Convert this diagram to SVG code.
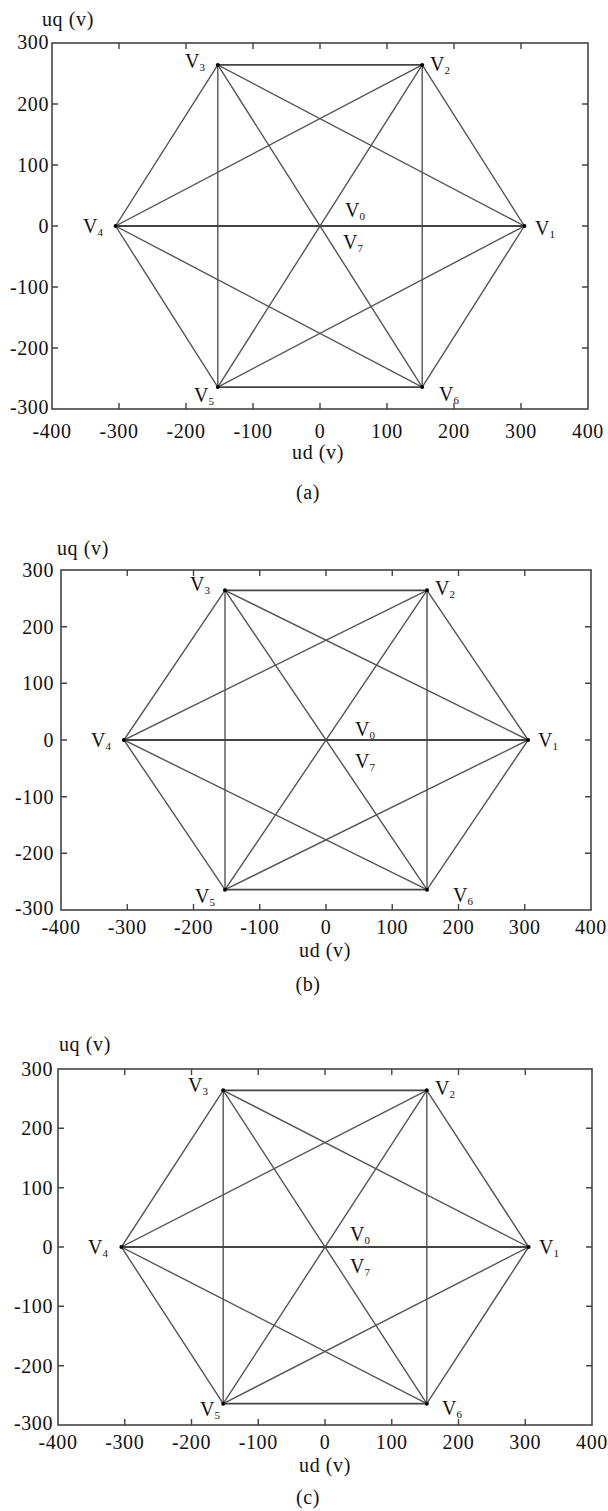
<svg xmlns="http://www.w3.org/2000/svg" width="608" height="1511" viewBox="0 0 608 1511">
<style>
.frame{fill:none;stroke:#444;stroke-width:1.6}
.tick{stroke:#444;stroke-width:1.4}
.ln{stroke:#555;stroke-width:1.4;fill:none;stroke-linecap:round}
.hz{stroke:#444;stroke-width:1.8;fill:none}
.t{font-family:"Liberation Serif","Times New Roman",serif;font-size:20px;fill:#111;letter-spacing:0.6px}
.xl{text-anchor:middle}
.yl{text-anchor:end}
.v{font-family:"Liberation Serif","Times New Roman",serif;font-size:20px;fill:#111}
.s{font-size:11px}
.dot{fill:#000}
</style>
<rect width="608" height="1511" fill="#fff"/>

<!-- ===== Panel (a) ===== -->
<g id="panel-a">
 <g id="axes-a">
  <rect class="frame" x="52" y="43" width="536" height="366"/>
  <path class="tick" d="M119,409v-6M186,409v-6M253,409v-6M320,409v-6M387,409v-6M454,409v-6M521,409v-6M119,43v6M186,43v6M253,43v6M320,43v6M387,43v6M454,43v6M521,43v6M52,104h6M52,165h6M52,226h6M52,287h6M52,348h6M588,104h-6M588,165h-6M588,226h-6M588,287h-6M588,348h-6"/>
  <g class="t xl">
   <text x="52" y="438">-400</text><text x="119" y="438">-300</text><text x="186" y="438">-200</text><text x="253" y="438">-100</text><text x="320" y="438">0</text><text x="387" y="438">100</text><text x="454" y="438">200</text><text x="521" y="438">300</text><text x="588" y="438">400</text>
  </g>
  <g class="t yl">
   <text x="49" y="49">300</text><text x="49" y="111">200</text><text x="49" y="172">100</text><text x="49" y="233">0</text><text x="49" y="294">-100</text><text x="49" y="355">-200</text><text x="49" y="414">-300</text>
  </g>
  <text class="t" x="42" y="26">uq (v)</text>
  <text class="t xl" x="318" y="459">ud (v)</text>
  <text class="t xl" x="308" y="499">(a)</text>
 </g>
 <g id="connectors-a">
  <path class="ln" d="M524.4,226L422.2,64.9M217.8,64.9L115.6,226L217.8,387.1M422.2,387.1L524.4,226"/>
  <path class="ln" d="M524.4,226L217.8,64.9L217.8,387.1Z"/>
  <path class="ln" d="M422.2,64.9L115.6,226L422.2,387.1Z"/>
  <path class="ln" d="M422.2,64.9L217.8,387.1M217.8,64.9L422.2,387.1"/>
  <path class="hz" d="M524.4,226H115.6M217.8,64.9H422.2M217.8,387.1H422.2"/>
 </g>
 <g id="a-V1"><circle class="dot" cx="524.4" cy="226" r="2"/><text class="v" x="535" y="235">V<tspan class="s" dy="3">1</tspan></text></g>
 <g id="a-V2"><circle class="dot" cx="422.2" cy="64.9" r="2"/><text class="v" x="430" y="71">V<tspan class="s" dy="3">2</tspan></text></g>
 <g id="a-V3"><circle class="dot" cx="217.8" cy="64.9" r="2"/><text class="v" x="185" y="68">V<tspan class="s" dy="3">3</tspan></text></g>
 <g id="a-V4"><circle class="dot" cx="115.6" cy="226" r="2"/><text class="v" x="83" y="233">V<tspan class="s" dy="3">4</tspan></text></g>
 <g id="a-V5"><circle class="dot" cx="217.8" cy="387.1" r="2"/><text class="v" x="194" y="402">V<tspan class="s" dy="3">5</tspan></text></g>
 <g id="a-V6"><circle class="dot" cx="422.2" cy="387.1" r="2"/><text class="v" x="439" y="401">V<tspan class="s" dy="3">6</tspan></text></g>
 <g id="a-V0"><text class="v" x="345" y="217">V<tspan class="s" dy="3">0</tspan></text></g>
 <g id="a-V7"><text class="v" x="343" y="249">V<tspan class="s" dy="3">7</tspan></text></g>
</g>

<!-- ===== Panel (b) ===== -->
<g id="panel-b">
 <g id="axes-b">
  <rect class="frame" x="61" y="570" width="530" height="340"/>
  <path class="tick" d="M127.25,910v-6M193.5,910v-6M259.75,910v-6M326,910v-6M392.25,910v-6M458.5,910v-6M524.75,910v-6M127.25,570v6M193.5,570v6M259.75,570v6M326,570v6M392.25,570v6M458.5,570v6M524.75,570v6M61,626.7h6M61,683.3h6M61,740h6M61,796.7h6M61,853.3h6M591,626.7h-6M591,683.3h-6M591,740h-6M591,796.7h-6M591,853.3h-6"/>
  <g class="t xl">
   <text x="61" y="934">-400</text><text x="127.25" y="934">-300</text><text x="193.5" y="934">-200</text><text x="259.75" y="934">-100</text><text x="326" y="934">0</text><text x="392.25" y="934">100</text><text x="458.5" y="934">200</text><text x="524.75" y="934">300</text><text x="591" y="934">400</text>
  </g>
  <g class="t yl">
   <text x="54" y="577">300</text><text x="54" y="634">200</text><text x="54" y="690">100</text><text x="54" y="747">0</text><text x="54" y="804">-100</text><text x="54" y="860">-200</text><text x="54" y="915">-300</text>
  </g>
  <text class="t" x="57" y="555">uq (v)</text>
  <text class="t xl" x="325" y="957">ud (v)</text>
  <text class="t xl" x="308" y="991">(b)</text>
 </g>
 <g id="connectors-b">
  <path class="ln" d="M528.1,740L427,590.3M225,590.3L123.9,740L225,889.7M427,889.7L528.1,740"/>
  <path class="ln" d="M528.1,740L225,590.3L225,889.7Z"/>
  <path class="ln" d="M427,590.3L123.9,740L427,889.7Z"/>
  <path class="ln" d="M427,590.3L225,889.7M225,590.3L427,889.7"/>
  <path class="hz" d="M528.1,740H123.9M225,590.3H427M225,889.7H427"/>
 </g>
 <g id="b-V1"><circle class="dot" cx="528.1" cy="740" r="2"/><text class="v" x="538" y="747">V<tspan class="s" dy="3">1</tspan></text></g>
 <g id="b-V2"><circle class="dot" cx="427" cy="590.3" r="2"/><text class="v" x="435" y="595">V<tspan class="s" dy="3">2</tspan></text></g>
 <g id="b-V3"><circle class="dot" cx="225" cy="590.3" r="2"/><text class="v" x="190" y="591">V<tspan class="s" dy="3">3</tspan></text></g>
 <g id="b-V4"><circle class="dot" cx="123.9" cy="740" r="2"/><text class="v" x="91" y="747">V<tspan class="s" dy="3">4</tspan></text></g>
 <g id="b-V5"><circle class="dot" cx="225" cy="889.7" r="2"/><text class="v" x="195" y="903">V<tspan class="s" dy="3">5</tspan></text></g>
 <g id="b-V6"><circle class="dot" cx="427" cy="889.7" r="2"/><text class="v" x="453" y="902">V<tspan class="s" dy="3">6</tspan></text></g>
 <g id="b-V0"><text class="v" x="355" y="736">V<tspan class="s" dy="3">0</tspan></text></g>
 <g id="b-V7"><text class="v" x="355" y="768">V<tspan class="s" dy="3">7</tspan></text></g>
</g>

<!-- ===== Panel (c) ===== -->
<g id="panel-c">
 <g id="axes-c">
  <rect class="frame" x="58" y="1069" width="534" height="356"/>
  <path class="tick" d="M124.75,1425v-6M191.5,1425v-6M258.25,1425v-6M325,1425v-6M391.75,1425v-6M458.5,1425v-6M525.25,1425v-6M124.75,1069v6M191.5,1069v6M258.25,1069v6M325,1069v6M391.75,1069v6M458.5,1069v6M525.25,1069v6M58,1128.3h6M58,1187.7h6M58,1247h6M58,1306.3h6M58,1365.7h6M592,1128.3h-6M592,1187.7h-6M592,1247h-6M592,1306.3h-6M592,1365.7h-6"/>
  <g class="t xl">
   <text x="58" y="1449">-400</text><text x="124.75" y="1449">-300</text><text x="191.5" y="1449">-200</text><text x="258.25" y="1449">-100</text><text x="325" y="1449">0</text><text x="391.75" y="1449">100</text><text x="458.5" y="1449">200</text><text x="525.25" y="1449">300</text><text x="592" y="1449">400</text>
  </g>
  <g class="t yl">
   <text x="53" y="1076">300</text><text x="53" y="1135">200</text><text x="53" y="1195">100</text><text x="53" y="1254">0</text><text x="53" y="1313">-100</text><text x="53" y="1373">-200</text><text x="53" y="1430">-300</text>
  </g>
  <text class="t" x="59" y="1051">uq (v)</text>
  <text class="t xl" x="325" y="1472">ud (v)</text>
  <text class="t xl" x="308" y="1504">(c)</text>
 </g>
 <g id="connectors-c">
  <path class="ln" d="M528.6,1247L426.8,1090.3M223.2,1090.3L121.4,1247L223.2,1403.7M426.8,1403.7L528.6,1247"/>
  <path class="ln" d="M528.6,1247L223.2,1090.3L223.2,1403.7Z"/>
  <path class="ln" d="M426.8,1090.3L121.4,1247L426.8,1403.7Z"/>
  <path class="ln" d="M426.8,1090.3L223.2,1403.7M223.2,1090.3L426.8,1403.7"/>
  <path class="hz" d="M528.6,1247H121.4M223.2,1090.3H426.8M223.2,1403.7H426.8"/>
 </g>
 <g id="c-V1"><circle class="dot" cx="528.6" cy="1247" r="2"/><text class="v" x="539" y="1254">V<tspan class="s" dy="3">1</tspan></text></g>
 <g id="c-V2"><circle class="dot" cx="426.8" cy="1090.3" r="2"/><text class="v" x="435" y="1095">V<tspan class="s" dy="3">2</tspan></text></g>
 <g id="c-V3"><circle class="dot" cx="223.2" cy="1090.3" r="2"/><text class="v" x="188" y="1092">V<tspan class="s" dy="3">3</tspan></text></g>
 <g id="c-V4"><circle class="dot" cx="121.4" cy="1247" r="2"/><text class="v" x="88" y="1254">V<tspan class="s" dy="3">4</tspan></text></g>
 <g id="c-V5"><circle class="dot" cx="223.2" cy="1403.7" r="2"/><text class="v" x="200" y="1416">V<tspan class="s" dy="3">5</tspan></text></g>
 <g id="c-V6"><circle class="dot" cx="426.8" cy="1403.7" r="2"/><text class="v" x="442" y="1415">V<tspan class="s" dy="3">6</tspan></text></g>
 <g id="c-V0"><text class="v" x="350" y="1241">V<tspan class="s" dy="3">0</tspan></text></g>
 <g id="c-V7"><text class="v" x="350" y="1273">V<tspan class="s" dy="3">7</tspan></text></g>
</g>
</svg>
